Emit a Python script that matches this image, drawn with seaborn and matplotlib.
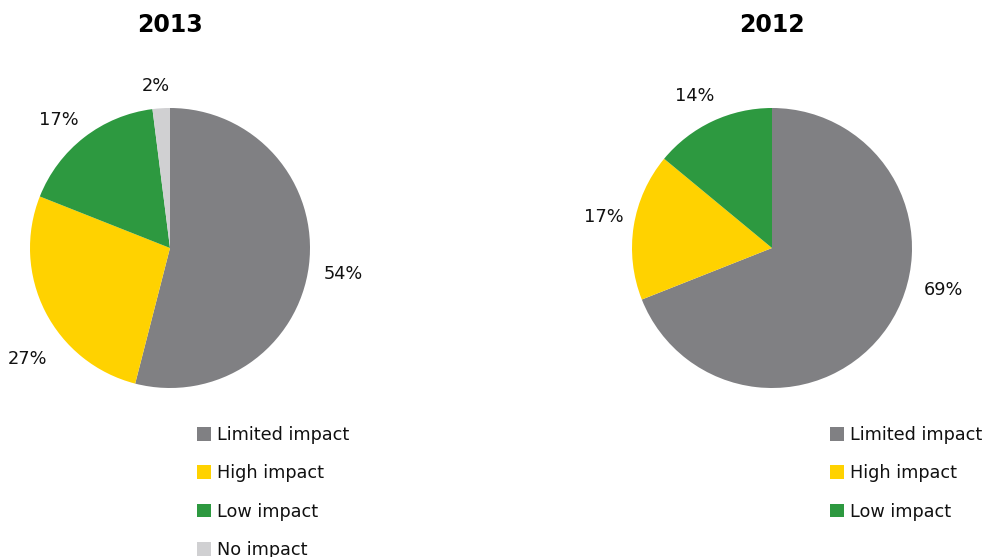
import matplotlib
matplotlib.use("Agg")
import numpy as np
import matplotlib.pyplot as plt
from matplotlib.patches import Patch
import seaborn as sns

sns.set_theme(style="white")
plt.rcParams["font.family"] = ["DejaVu Sans"]
plt.rcParams["text.color"] = "#111111"

years = ["2013", "2012"]
categories_2013 = ["Limited impact", "High impact", "Low impact", "No impact"]
shares_2013 = [54, 27, 17, 2]
categories_2012 = ["Limited impact", "High impact", "Low impact"]
shares_2012 = [69, 17, 14]

palette = {
    "Limited impact": "#808083",
    "High impact": "#FFD200",
    "Low impact": "#2D9940",
    "No impact": "#D0D0D2",
}

# best-fit placement of the percentage labels: (angle nudge in degrees, radius)
label_fit = {
    "2013": [(-1.3, 1.25), (11, 1.29), (3, 1.21), (1.3, 1.16)],
    "2012": [(20.5, 1.26), (-1.5, 1.22), (1.7, 1.22)],
}

W, H = 987, 557
fig = plt.figure(figsize=(W / 100, H / 100), dpi=100)

def px_axes(cx, cy, r):
    return fig.add_axes([(cx - r) / W, (H - cy - r) / H, 2 * r / W, 2 * r / H])

panels = [
    (years[0], categories_2013, shares_2013, 170, 197),
    (years[1], categories_2012, shares_2012, 772, 830),
]

for year, cats, vals, cx, lx in panels:
    ax = px_axes(cx, 248, 140)
    colors = [palette[c] for c in cats]
    wedges, texts, autotexts = ax.pie(
        vals, colors=colors, startangle=90, counterclock=False,
        autopct=lambda p: f"{p:.0f}%", pctdistance=1.24,
        wedgeprops=dict(linewidth=0),
        textprops=dict(fontsize=12.8, color="#111111"),
    )
    for w, t, (nudge, rad) in zip(wedges, autotexts, label_fit[year]):
        ang = np.deg2rad((w.theta1 + w.theta2) / 2 + nudge)
        t.set_position((rad * np.cos(ang), rad * np.sin(ang)))
    ax.set_xlim(-1, 1)
    ax.set_ylim(-1, 1)
    ax.set_aspect("equal")
    ax.set_title(year, fontsize=17, fontweight="bold", pad=0, y=1.27,
                 color="#000000")

    handles = [Patch(facecolor=palette[c], edgecolor="none", label=c) for c in cats]
    fig.legend(
        handles=handles, loc="upper left",
        bbox_to_anchor=(lx / W, 1 - 426 / H),
        frameon=False, fontsize=12.7, labelspacing=1.15,
        handlelength=0.82, handleheight=0.82, handletextpad=0.33,
        borderpad=0, borderaxespad=0,
    )

fig.savefig("out.png", dpi=100)
